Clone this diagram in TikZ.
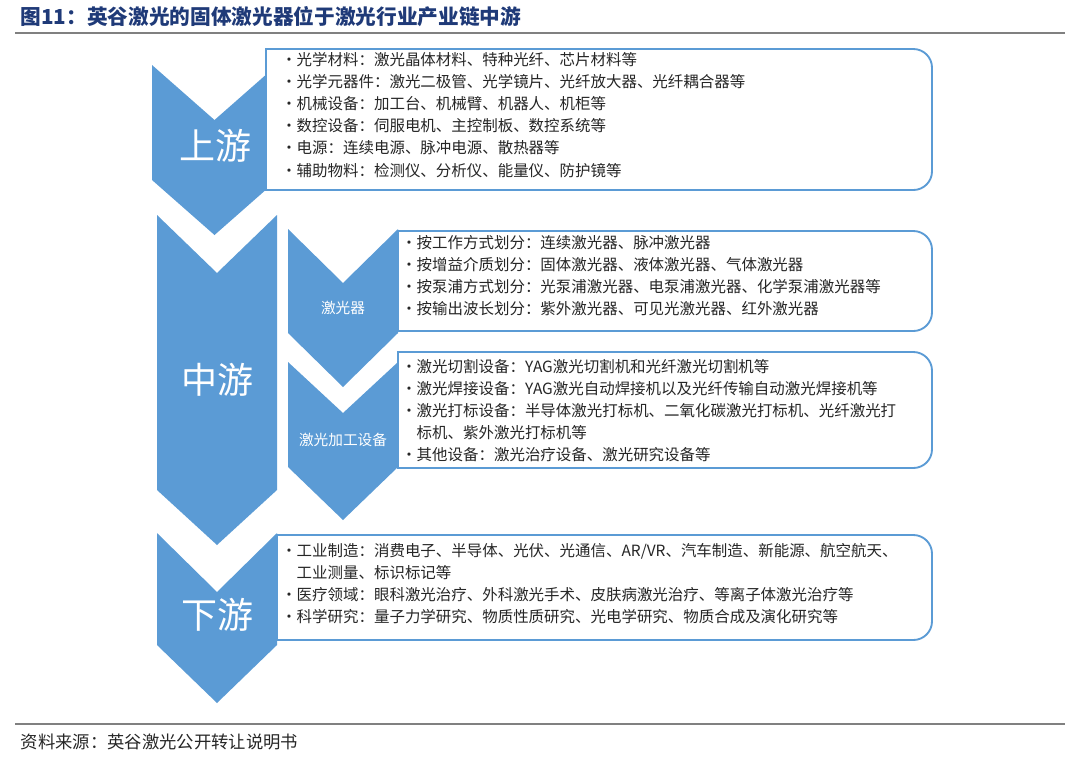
\documentclass[tikz,border=0pt]{standalone}
\usepackage{fontspec}
\setmainfont{Noto Sans CJK SC}
\usetikzlibrary{positioning}
\definecolor{chevblue}{HTML}{5B9BD5}
\definecolor{titleblue}{HTML}{1F3A78}
\definecolor{txtgrey}{HTML}{262626}
% chevron: x-left, x-right, y-top, y-notch, y-bottom, y-point
\newcommand{\chev}[6]{\fill[chevblue] (#1,#3) -- ({(#1+#2)/2},#4) -- (#2,#3) -- (#2,#5) -- ({(#1+#2)/2},#6) -- (#1,#5) -- cycle;}
% box with round right corners: x-left, y-top, y-bottom
\newcommand{\infobox}[3]{\draw[boxline] (600,#2) [rounded corners=14pt] -- (932,#2) -- (932,#3) -- (600,#3) [sharp corners] -- (#1,#3) -- (#1,#2) -- cycle;}
\begin{document}
\begin{tikzpicture}[x=0.75pt, y=-0.75pt]
\tikzset{
  boxline/.style = {draw=chevblue, line width=1.4pt, fill=white},
  itemtext/.style = {anchor=north west, align=left, inner sep=0pt, text=txtgrey,
     font=\fontsize{11.6}{16.6}\selectfont},
  chevlabel/.style = {text=white, font=\fontsize{27}{30}\selectfont},
  sublabel/.style = {text=white, font=\fontsize{11}{13}\selectfont}
}
\useasboundingbox (0,0) rectangle (1080,758);

% title and rules
\node (title)[anchor=west, text=titleblue, font=\fontsize{15.5}{17}\selectfont\bfseries] at (16,17){图11：英谷激光的固体激光器位于激光行业产业链中游};
\draw[gray, line width=1.2pt] (15,33) -- (1065,33);
\draw[gray, line width=1.2pt] (15,724) -- (1065,724);
\node (source)[anchor=west, text=txtgrey, font=\fontsize{13}{15}\selectfont] at (16,742){资料来源：英谷激光公开转让说明书};

% main chevrons
\chev{152}{277}{65}{120}{180}{235}
\chev{157}{277}{215}{273}{490}{545}
\chev{157}{277}{533}{592}{645}{703}

% sub chevrons
\chev{288}{398}{229}{283}{333}{387}
\chev{288}{398}{362}{413}{467}{520}

% boxes
\infobox{266}{49}{190}
\infobox{398}{231}{331}
\infobox{398}{352}{468}
\infobox{277}{535}{640}

% chevron labels
\node (up)[chevlabel] at (215,146){上游};
\node (mid)[chevlabel] at (217,380){中游};
\node (down)[chevlabel] at (217,615){下游};
\node (laser)[sublabel] at (343,308){激光器};
\node (proc)[sublabel] at (343,440){激光加工设备};

% box texts
\node (upText)[itemtext] at (281,52){•光学材料：激光晶体材料、特种光纤、芯片材料等\\
•光学元器件：激光二极管、光学镜片、光纤放大器、光纤耦合器等\\
•机械设备：加工台、机械臂、机器人、机柜等\\
•数控设备：伺服电机、主控制板、数控系统等\\
•电源：连续电源、脉冲电源、散热器等\\
•辅助物料：检测仪、分析仪、能量仪、防护镜等};
\node (laserText)[itemtext] at (401,235){•按工作方式划分：连续激光器、脉冲激光器\\
•按增益介质划分：固体激光器、液体激光器、气体激光器\\
•按泵浦方式划分：光泵浦激光器、电泵浦激光器、化学泵浦激光器等\\
•按输出波长划分：紫外激光器、可见光激光器、红外激光器};
\node (procText)[itemtext] at (401,359){•激光切割设备：YAG激光切割机和光纤激光切割机等\\
•激光焊接设备：YAG激光自动焊接机以及光纤传输自动激光焊接机等\\
•激光打标设备：半导体激光打标机、二氧化碳激光打标机、光纤激光打\\
\phantom{•}标机、紫外激光打标机等\\
•其他设备：激光治疗设备、激光研究设备等};
\node (downText)[itemtext] at (281,543){•工业制造：消费电子、半导体、光伏、光通信、AR/VR、汽车制造、新能源、航空航天、\\
\phantom{•}工业测量、标识标记等\\
•医疗领域：眼科激光治疗、外科激光手术、皮肤病激光治疗、等离子体激光治疗等\\
•科学研究：量子力学研究、物质性质研究、光电学研究、物质合成及演化研究等};
\end{tikzpicture}
\end{document}
